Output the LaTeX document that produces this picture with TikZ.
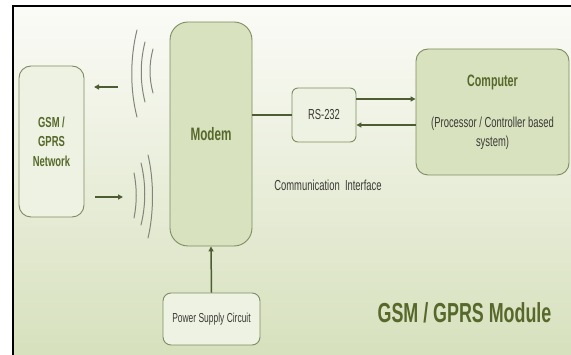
\documentclass[tikz,border=0pt]{standalone}
\usepackage{fontspec}
\setmainfont[FakeStretch=0.65]{Liberation Sans}
\usetikzlibrary{arrows.meta}

\definecolor{bgtop}{HTML}{FBFBF7}
\definecolor{bgbot}{HTML}{D6E0BC}
\definecolor{boxdark}{HTML}{D8E2BE}
\definecolor{boxlite}{HTML}{EEF2E2}
\definecolor{boxedge}{HTML}{7E8C62}
\definecolor{gtext}{HTML}{56682A}
\definecolor{ltext}{HTML}{3A3A36}
\definecolor{wire}{HTML}{4E5C34}
\definecolor{wavecol}{HTML}{80867A}

\tikzset{
  blockbox/.style={draw=boxedge, line width=0.9pt, inner sep=0pt, align=center},
  darkbox/.style={blockbox, fill=boxdark},
  litebox/.style={blockbox, fill=boxlite},
  title/.style={font=\bfseries\fontsize{#1}{#1}\selectfont, text=gtext},
  plain/.style={font=\fontsize{#1}{#1}\selectfont, text=ltext},
  wire/.style={draw=wire, line width=#1},
  tip/.style={-{Triangle[length=5pt,width=5pt]}},
  wave/.style={draw=wavecol, line width=1pt, line cap=round}
}

\begin{document}
\begin{tikzpicture}[x=1pt,y=-1pt]
\useasboundingbox (0,0) rectangle (571,355);
\clip (0,0) rectangle (571,355);
\fill[white] (0,0) rectangle (571,355);

% framed panel with a soft vertical gradient
\shade[top color=bgtop, bottom color=bgbot] (13,6) rectangle (580,362);
\draw[black, line width=2.6pt] (13,362) -- (13,6) -- (580,6);

% blocks
\node[litebox, rounded corners=12pt, minimum width=65pt, minimum height=151pt,
      title=14.5] (net) at (51.5,141.5)
      {GSM /\\[5pt]GPRS\\[5pt]Network};
\node[darkbox, rounded corners=18pt, minimum width=82pt, minimum height=224pt,
      title=18] (modem) at (211,134) {Modem};
\node[litebox, rounded corners=6pt, minimum width=64pt, minimum height=54pt,
      plain=14.5] (rs) at (324,115) {RS-232};
\node[darkbox, rounded corners=12pt, minimum width=153pt, minimum height=126pt,
      font=\fontsize{14.5}{19}\selectfont, text=ltext]
      (comp) at (492.5,112)
      {\textcolor{gtext}{\bfseries\fontsize{16.5}{16.5}\selectfont Computer}\\[22pt]
       (Processor / Controller based\\system)};
\node[litebox, rounded corners=8pt, minimum width=97pt, minimum height=52pt,
      plain=13] (psu) at (211.5,319) {Power Supply Circuit};

% free labels
\node[plain=14.5] (ci) at (328,185) {Communication\ \ Interface};
\node[title=27.5] (mod) at (464.5,313) {GSM / GPRS Module};

% wired links
\draw[wire=2.4pt] (rs.west -| modem.east) -- (rs.west);
\draw[wire=2pt, tip] ([yshift=16pt]rs.east) -- ([yshift=16pt]rs.east -| comp.west);
\draw[wire=2pt, tip] ([yshift=-10pt]rs.east -| comp.west) -- ([yshift=-10pt]rs.east);
\draw[wire=1.5pt, tip] (psu.north) -- (modem.south);

% air link between network and modem
\coordinate (upA) at (118,87);
\coordinate (upB) at (94,87);
\coordinate (dnA) at (95,197);
\coordinate (dnB) at (123,197);
\draw[wire=2.4pt, tip] (upA) -- (upB);
\draw[wire=2.4pt, tip] (dnA) -- (dnB);

% radio waves
\draw[wave] (137,30) .. controls (130,58) and (130,90) .. (137,117);
\draw[wave] (145,42) .. controls (140,62) and (140,82) .. (145,102);
\draw[wave] (153,49) .. controls (149,64) and (149,78) .. (153,93);
\draw[wave] (134,173) .. controls (137,188) and (137,203) .. (134,218);
\draw[wave] (141,163) .. controls (146,183) and (146,205) .. (141,225);
\draw[wave] (148,155) .. controls (154,180) and (154,213) .. (148,238);
\end{tikzpicture}
\end{document}
